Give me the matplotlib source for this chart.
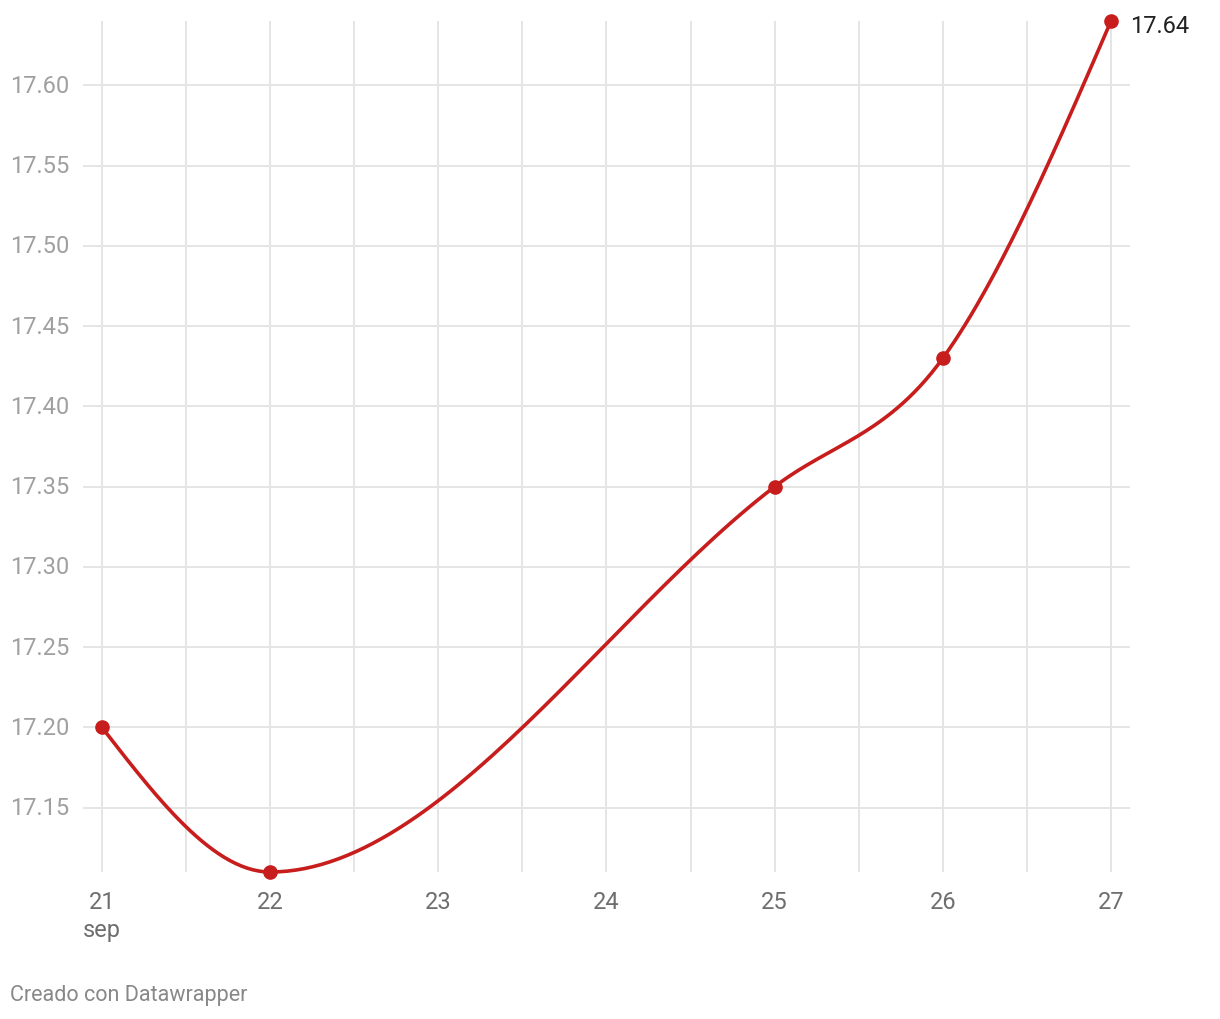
"""Datawrapper-style smooth line chart"""
import numpy as np
import matplotlib
matplotlib.use('Agg')
import matplotlib.pyplot as plt

plt.rcParams['font.family'] = ['Roboto', 'DejaVu Sans']

# data
days = [21, 22, 25, 26, 27]
values = [17.20, 17.11, 17.35, 17.43, 17.64]
x_ticks = [21, 22, 23, 24, 25, 26, 27]
x_tick_labels = ['21\nsep', '22', '23', '24', '25', '26', '27']
y_ticks = [17.15, 17.20, 17.25, 17.30, 17.35, 17.40, 17.45, 17.50, 17.55, 17.60]

RED = '#c71e1d'


def monotone_slopes(x, y):
    """tangents like d3.curveMonotoneX"""
    n = len(x)
    t = np.zeros(n)
    for i in range(1, n - 1):
        h0, h1 = x[i] - x[i - 1], x[i + 1] - x[i]
        s0, s1 = (y[i] - y[i - 1]) / h0, (y[i + 1] - y[i]) / h1
        p = (s0 * h1 + s1 * h0) / (h0 + h1)
        t[i] = (np.sign(s0) + np.sign(s1)) * min(abs(s0), abs(s1), 0.5 * abs(p))
    t[0] = (3 * (y[1] - y[0]) / (x[1] - x[0]) - t[1]) / 2
    t[-1] = (3 * (y[-1] - y[-2]) / (x[-1] - x[-2]) - t[-2]) / 2
    return t


def monotone_curve(x, y, steps=60):
    x = np.asarray(x, float)
    y = np.asarray(y, float)
    t = monotone_slopes(x, y)
    xs, ys = [], []
    for i in range(len(x) - 1):
        dx = x[i + 1] - x[i]
        u = np.linspace(0, 1, steps)
        h00 = 2 * u**3 - 3 * u**2 + 1
        h10 = u**3 - 2 * u**2 + u
        h01 = -2 * u**3 + 3 * u**2
        h11 = u**3 - u**2
        xs.append(x[i] + u * dx)
        ys.append(h00 * y[i] + h10 * dx * t[i] + h01 * y[i + 1] + h11 * dx * t[i + 1])
    return np.concatenate(xs), np.concatenate(ys)


fig = plt.figure(figsize=(12.2, 10.2), dpi=100)
ax = fig.add_axes([83 / 1220, 147 / 1020, 1047 / 1220, 851 / 1020])

px_per_day = (1111 - 102) / 6
ax.set_xlim(21 - 19 / px_per_day, 27 + 19 / px_per_day)
ax.set_ylim(17.11, 17.64)

# grid
grid_c = '#e5e5e5'
ax.hlines(y_ticks, *ax.get_xlim(), color=grid_c, lw=1.4, zorder=1)
ax.vlines(np.arange(21, 27.01, 0.5), 17.11, 17.64, color=grid_c, lw=1.4, zorder=1)

cx, cy = monotone_curve(days, values)
ax.plot(cx, cy, color=RED, lw=2.6, zorder=3, clip_on=False, solid_capstyle='round')
ax.plot(days, values, 'o', color=RED, ms=9.5, zorder=4, clip_on=False)

ax.annotate(f'{values[-1]:.2f}', (days[-1], values[-1]), xytext=(14, -3),
            textcoords='offset points', ha='left', va='center', fontsize=17,
            color='#222222')

for s in ax.spines.values():
    s.set_visible(False)
ax.set_xticks([])
ax.set_yticks([])

for v in y_ticks:
    ax.text(10 / 1220, ax.transData.transform((0, v))[1] / 1020, f'{v:.2f}',
            transform=fig.transFigure, ha='left', va='center', fontsize=17,
            color='#a0a0a0')

for d, lab in zip(x_ticks, x_tick_labels):
    ax.annotate(lab, (d, 17.11), xytext=(0, -13), textcoords='offset points',
                ha='center', va='top', fontsize=17, color='#6e6e6e',
                linespacing=1.25)

fig.text(10 / 1220, 1 - 996 / 1020, 'Creado con Datawrapper', ha='left',
         va='center', fontsize=15.5, color='#888888')

fig.savefig('out.png', dpi=100, facecolor='white')
